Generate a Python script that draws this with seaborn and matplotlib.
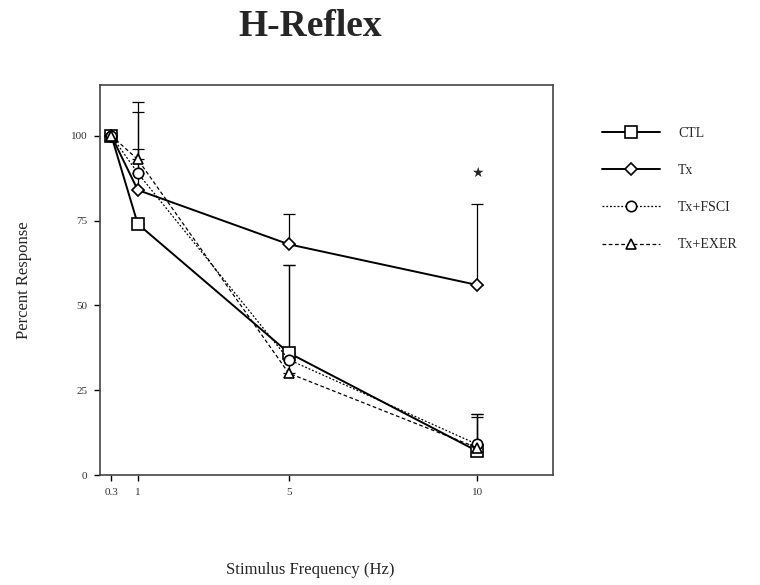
import numpy as np
import pandas as pd
import matplotlib
matplotlib.use("Agg")
import matplotlib.pyplot as plt
import seaborn as sns
from matplotlib.lines import Line2D

# Stimulus frequencies (Hz) and group means (% of response at 0.3 Hz)
freqs = [0.3, 1, 5, 10]
groups = ["CTL", "Tx", "Tx+FSCI", "Tx+EXER"]
ctl = [100, 74, 36, 7]
tx = [100, 84, 68, 56]
tx_fsci = [100, 89, 34, 9]
tx_exer = [100, 93, 30, 8]

# Upper SEM per group (one-sided bars)
ctl_err = [0, 0, 26, 10]
tx_err = [0, 12, 9, 24]
tx_fsci_err = [0, 18, 0, 9]
tx_exer_err = [0, 17, 32, 10]

x_ticks = [0.3, 1, 5, 10]
x_ticklabels = ["0.3", "1", "5", "10"]
y_ticks = [0, 25, 50, 75, 100]

sns.set_style("white")
plt.rcParams["font.family"] = ["Liberation Serif", "DejaVu Serif"]

df = pd.DataFrame({
    "freq": freqs * 4,
    "resp": ctl + tx + tx_fsci + tx_exer,
    "group": [g for g in groups for _ in freqs],
})

fig = plt.figure(figsize=(7.6, 5.85), dpi=100)
ax = fig.add_axes([0.1316, 0.188, 0.596, 0.667])

markers = {"CTL": "s", "Tx": "D", "Tx+FSCI": "o", "Tx+EXER": "^"}
msizes = {"CTL": 8.5, "Tx": 6.5, "Tx+FSCI": 7.5, "Tx+EXER": 7.5}
dashes = {"CTL": "", "Tx": "", "Tx+FSCI": (1.5, 1.5), "Tx+EXER": (3, 2)}
lwidths = {"CTL": 1.4, "Tx": 1.4, "Tx+FSCI": 0.9, "Tx+EXER": 0.9}
errs = {"CTL": ctl_err, "Tx": tx_err, "Tx+FSCI": tx_fsci_err, "Tx+EXER": tx_exer_err}
means = {"CTL": ctl, "Tx": tx, "Tx+FSCI": tx_fsci, "Tx+EXER": tx_exer}

for g in groups:
    ax.errorbar(freqs, means[g], yerr=[np.zeros(len(freqs)), errs[g]],
                fmt="none", ecolor="black", elinewidth=0.9, capsize=4,
                capthick=0.9, zorder=1)

sns.lineplot(data=df, x="freq", y="resp", hue="group", style="group",
             palette={g: "black" for g in groups}, markers=markers,
             dashes=dashes, legend=False, ax=ax, zorder=2)

for line, g in zip(ax.get_lines()[-4:], groups):
    line.set_markersize(msizes[g])
    line.set_markerfacecolor("white")
    line.set_markeredgecolor("black")
    line.set_markeredgewidth(1.2)
    line.set_linewidth(lwidths[g])

# significance marker
ax.text(10, 89, "★", ha="center", va="center", fontsize=10,
        family=["DejaVu Sans"])

ax.set_xlim(0, 12)
ax.set_ylim(0, 115)
ax.set_xticks(x_ticks)
ax.set_xticklabels(x_ticklabels)
ax.set_yticks(y_ticks)
ax.tick_params(axis="both", direction="out", length=4, width=1,
               labelsize=8, color="black", labelcolor="#333333",
               bottom=True, left=True, pad=5)
for s in ax.spines.values():
    s.set_color("#444444")
    s.set_linewidth(1.2)
ax.set_xlabel("")
ax.set_ylabel("Percent Response", fontsize=12, labelpad=28)

fig.text(0.408, 0.025, "Stimulus Frequency (Hz)", ha="center", va="center",
         fontsize=12)
fig.text(0.408, 0.955, "H-Reflex", ha="center", va="center", fontsize=27,
         fontweight="bold")

handles = []
for g in groups:
    handles.append(Line2D([], [], color="black", marker=markers[g],
                          markersize=msizes[g], markerfacecolor="white",
                          markeredgecolor="black", markeredgewidth=1.2,
                          linewidth=lwidths[g],
                          linestyle="-" if dashes[g] == "" else (0, dashes[g])))
fig.legend(handles, groups, loc="upper left", bbox_to_anchor=(0.775, 0.805),
           frameon=False, handlelength=4.2, labelspacing=1.75,
           handletextpad=1.3, fontsize=10)

fig.savefig("out.png", dpi=100)
